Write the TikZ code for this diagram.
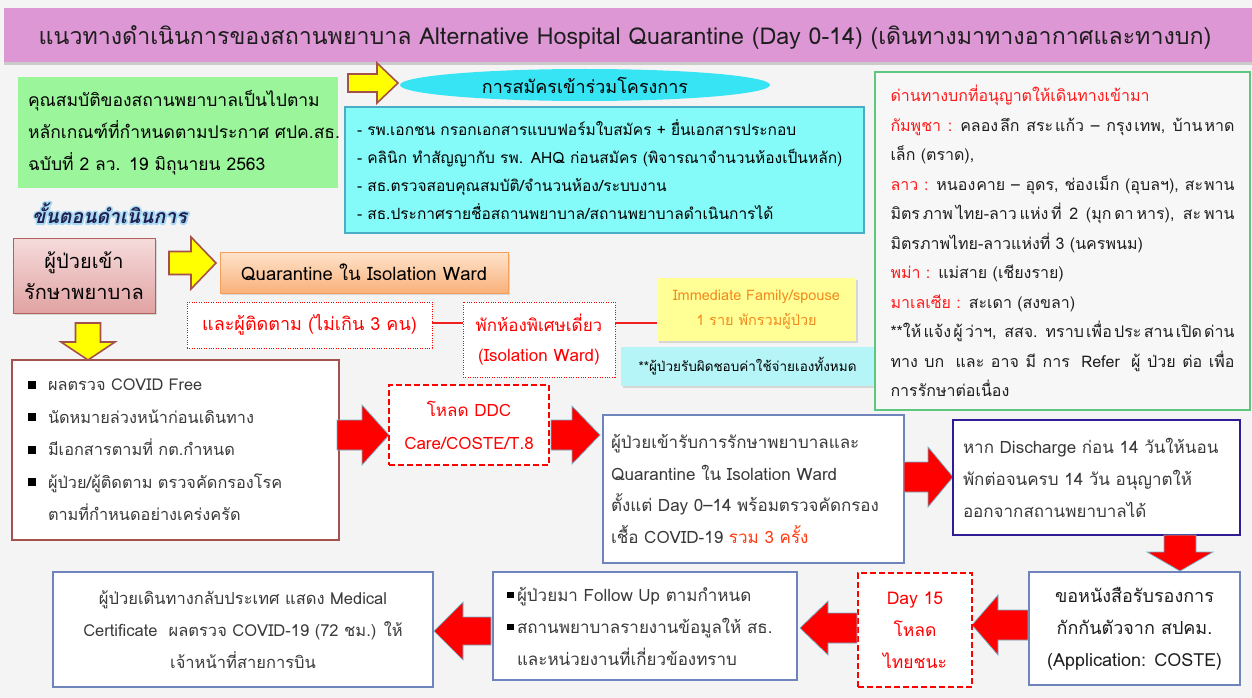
\documentclass[tikz,border=0pt]{standalone}
\usepackage{fontspec}
\setmainfont{Loma}[Script=Thai]
\usetikzlibrary{shapes.geometric,shadows}

\definecolor{bgc}{HTML}{F4F4F4}
\definecolor{titlec}{HTML}{DC97D4}
\definecolor{titletxt}{HTML}{1E1E1E}
\definecolor{qualc}{HTML}{9BF59A}
\definecolor{enrollc}{HTML}{37E4F4}
\definecolor{detailc}{HTML}{85FBF9}
\definecolor{detailline}{HTML}{4BACC6}
\definecolor{panelc}{HTML}{F7F7F7}
\definecolor{bordergreen}{HTML}{5DC77D}
\definecolor{pinktop}{HTML}{F6DCDC}
\definecolor{pinkbot}{HTML}{E1A2A2}
\definecolor{pinkline}{HTML}{B0615D}
\definecolor{orangetop}{HTML}{FEE4CC}
\definecolor{orangebot}{HTML}{F9B07A}
\definecolor{orangeline}{HTML}{F4A05B}
\definecolor{spousec}{HTML}{FFFF96}
\definecolor{spousetext}{HTML}{F28A1E}
\definecolor{selfpayc}{HTML}{B5F5F8}
\definecolor{arrowyellow}{HTML}{FFFF00}
\definecolor{arrowline}{HTML}{A5514B}
\definecolor{arrowedge}{HTML}{6FB7CF}
\definecolor{boxblue}{HTML}{6F83BD}
\definecolor{boxnavy}{HTML}{2E1D94}
\definecolor{checkline}{HTML}{A3524E}
\definecolor{graytxt}{HTML}{3A3A3A}
\definecolor{stepc}{HTML}{1F2050}
\definecolor{glowc}{HTML}{A9D8F2}
\definecolor{landred}{HTML}{FF1A1A}
\definecolor{countc}{HTML}{FF3A10}
\definecolor{tiec}{HTML}{F02020}

\newcommand\fsz[2]{\fontsize{#1}{#2}\selectfont}
\newcommand\keepline[1]{\mbox{#1}}
% a line spread out to the full width of the panel; \sg marks extra stretch points
\newcommand\sg{\hspace{0pt plus 1fil}}
\newcommand\spreadline[1]{\makebox[344pt][s]{\spaceskip=0.3em plus 1fil\relax #1}}
% text with a soft light-blue halo: a stroked copy under the filled text
\newcommand\glowtext[1]{\leavevmode
  \rlap{\textcolor{glowc}{\special{pdf:literal direct 1 Tr 3.6 w 1 j}#1\special{pdf:literal direct 0 Tr 0.4 w 0 j}}}%
  #1}
\newcommand\sqbullet{\makebox[20pt][l]{\textcolor{black}{\rule[2pt]{8pt}{8pt}}}}
\newcommand\smbullet{\makebox[10pt][l]{\textcolor{black}{\rule[3pt]{6.5pt}{6.5pt}}}}
% block arrows: [style]{tail}{head base}{tip}{centre}{shaft half}{head half}
\newcommand\blockh[7][]{\draw[#1] (#2,{#5-#6}) -- (#3,{#5-#6}) -- (#3,{#5-#7}) -- (#4,#5)
  -- (#3,{#5+#7}) -- (#3,{#5+#6}) -- (#2,{#5+#6}) -- cycle;}
\newcommand\blockv[7][]{\draw[#1] ({#5-#6},#2) -- ({#5-#6},#3) -- ({#5-#7},#3) -- (#5,#4)
  -- ({#5+#7},#3) -- ({#5+#6},#3) -- ({#5+#6},#2) -- cycle;}

\tikzset{
  boxed/.style={rectangle, inner ysep=0pt, outer sep=0pt},
  bluebox/.style={boxed, draw=boxblue, line width=2pt, fill=white, text=graytxt},
  reddash/.style={boxed, draw=red, line width=2.4pt, dash pattern=on 6pt off 3pt, fill=white, text=red, align=center},
  reddot/.style={boxed, draw=red, line width=0.8pt, dash pattern=on 1pt off 1.4pt, fill=white, text=red, align=center},
  yarrow/.style={fill=arrowyellow, draw=arrowline, line width=1.6pt, line join=miter},
  rarrow/.style={fill=red, draw=arrowedge, line width=0.7pt},
  tieline/.style={draw=tiec, line width=1.1pt},
  softshadow/.style={drop shadow={opacity=0.25, shadow xshift=1.5pt, shadow yshift=-2pt}},
}

\begin{document}
\begin{tikzpicture}[x=1pt,y=-1pt]
\useasboundingbox (0,0) rectangle (1252,698);
\fill[bgc] (0,0) rectangle (1252,698);

% heading band
\node[boxed, fill=titlec, minimum width=1248pt, minimum height=54pt,
      drop shadow={opacity=0.35, shadow xshift=0pt, shadow yshift=-3pt}] (titlebar) at (628,35) {};
\node[font=\fsz{23.2}{26}, text=titletxt] (title) at (625,37)
  {แนวทางดำเนินการของสถานพยาบาล Alternative Hospital Quarantine (Day 0-14) (เดินทางมาทางอากาศและทางบก)};

% qualification box
\node[boxed, fill=qualc, minimum width=320pt, minimum height=111pt, text width=300pt,
      inner xsep=10pt, align=left, font=\fsz{17.5}{32}] (qual) at (178,132.5)
  {\keepline{คุณสมบัติของสถานพยาบาลเป็นไปตาม}\\
   \keepline{หลักเกณฑ์ที่กำหนดตามประกาศ ศปค.สธ.}\\
   \keepline{ฉบับที่ 2 ลว. 19 มิถุนายน 2563}};

\node[anchor=west, inner sep=0pt, font=\fsz{19.5}{22}\bfseries\itshape, text=stepc] (steps) at (32,213)
  {\glowtext{ขั้นตอนดำเนินการ}};

% enrolment
\blockh[yarrow]{348}{377}{398}{83}{9}{20}
\node[ellipse, fill=enrollc, minimum width=370pt, minimum height=32pt, inner sep=0pt,
      font=\fsz{18}{20}] (enroll) at (585,85) {การสมัครเข้าร่วมโครงการ};
\node[boxed, fill=detailc, draw=detailline, line width=1.2pt, minimum width=519pt, minimum height=126pt,
      text width=495pt, inner xsep=12pt, align=left, font=\fsz{15.5}{28}] (detail) at (604.5,170)
  {\keepline{- รพ.เอกชน กรอกเอกสารแบบฟอร์มใบสมัคร + ยื่นเอกสารประกอบ}\\
   \keepline{- คลินิก ทำสัญญากับ รพ. AHQ ก่อนสมัคร (พิจารณาจำนวนห้องเป็นหลัก)}\\
   \keepline{- สธ.ตรวจสอบคุณสมบัติ/จำนวนห้อง/ระบบงาน}\\
   \keepline{- สธ.ประกาศรายชื่อสถานพยาบาล/สถานพยาบาลดำเนินการได้}};

% admission
\node[boxed, draw=pinkline, line width=1pt, top color=pinktop, bottom color=pinkbot, softshadow,
      minimum width=142pt, minimum height=75pt, align=center, font=\fsz{20}{31}] (patient) at (84,275.5)
  {ผู้ป่วยเข้า\\รักษาพยาบาล};
\blockh[yarrow]{169}{191}{216}{263}{11.5}{26}
\node[boxed, draw=orangeline, line width=1pt, top color=orangetop, bottom color=orangebot, softshadow,
      minimum width=288pt, minimum height=41pt, font=\fsz{18.5}{20}] (quar) at (364,272.5)
  {Quarantine ใน Isolation Ward};

\node[reddot, minimum width=245pt, minimum height=46pt, font=\fsz{18}{20}] (family) at (309.5,325)
  {และผู้ติดตาม (ไม่เกิน 3 คน)};
\node[reddot, minimum width=152pt, minimum height=75pt, font=\fsz{17}{30}] (isoroom) at (539,339.5)
  {พักห้องพิเศษเดี่ยว\\(Isolation Ward)};
\node[boxed, fill=spousec, softshadow, minimum width=199pt, minimum height=63pt, align=center,
      text=spousetext, font=\fsz{14.5}{25}] (spouse) at (756.5,309.5)
  {Immediate Family/spouse\\1 ราย พักรวมผู้ป่วย};
\node[boxed, fill=selfpayc, softshadow, minimum width=253pt, minimum height=39pt,
      font=\fsz{13.5}{16}] (selfpay) at (747.5,366.5)
  {**ผู้ป่วยรับผิดชอบค่าใช้จ่ายเองทั้งหมด};
\draw[tieline] ([yshift=2pt]family.east) -- ([yshift=2pt]family.east -| isoroom.west);
\draw[tieline] ([yshift=2pt]family.east -| isoroom.east) -- ([yshift=2pt]family.east -| spouse.west);

% land border checkpoints
\node[boxed, fill=panelc, draw=bordergreen, line width=1.2pt, minimum width=375pt, minimum height=338pt,
      text width=344pt, inner xsep=13pt, align=left, text=titletxt, font=\fsz{16}{29.5}] (borders) at (1062.5,241)
  {\keepline{\textcolor{landred}{ด่านทางบกที่อนุญาตให้เดินทางเข้ามา}}\\
   \spreadline{\textcolor{landred}{กัมพูชา :} คลอง\sg ลึก สระ\sg แก้ว – กรุง\sg เทพ, บ้าน\sg หาด}\\
   \keepline{เล็ก (ตราด),}\\
   \spreadline{\textcolor{landred}{ลาว :} หนอง\sg คาย – อุดร, ช่อง\sg เม็ก (อุบลฯ), สะ\sg พาน}\\
   \spreadline{มิตร\sg ภาพ\sg ไทย-ลาว\sg แห่ง\sg ที่ 2 (มุก\sg ดา\sg หาร), สะ\sg พาน}\\
   \keepline{มิตรภาพไทย-ลาวแห่งที่ 3 (นครพนม)}\\
   \keepline{\textcolor{landred}{พม่า :} แม่สาย (เชียงราย)}\\
   \keepline{\textcolor{landred}{มาเลเซีย :} สะเดา (สงขลา)}\\
   \spreadline{**ให้\sg แจ้ง\sg ผู้\sg ว่าฯ, สสจ. ทราบ\sg เพื่อ\sg ประ\sg สาน\sg เปิด\sg ด่าน}\\
   \spreadline{ทาง\sg บก และ\sg อาจ\sg มี\sg การ Refer ผู้\sg ป่วย\sg ต่อ\sg เพื่อ}\\
   \keepline{การรักษาต่อเนื่อง}};

% pre-arrival checks
\blockv[yarrow]{323}{342}{360}{88}{12.5}{27}
\node[boxed, draw=checkline, line width=2pt, fill=white, minimum width=327pt, minimum height=180pt,
      text width=295pt, inner xsep=16pt, align=left, text=graytxt, font=\fsz{16.3}{32.5}] (checklist) at (175.5,450)
  {\keepline{\sqbullet ผลตรวจ COVID Free}\\
   \keepline{\sqbullet นัดหมายล่วงหน้าก่อนเดินทาง}\\
   \keepline{\sqbullet มีเอกสารตามที่ กต.กำหนด}\\
   \keepline{\sqbullet ผู้ป่วย/ผู้ติดตาม ตรวจคัดกรองโรค}\\
   \keepline{\hspace*{20pt}ตามที่กำหนดอย่างเคร่งครัด}};

\blockh[rarrow]{337}{362}{389}{435}{15}{30}
\node[reddash, minimum width=160pt, minimum height=80pt, font=\fsz{17}{33}] (ddc) at (469,425)
  {โหลด DDC\\Care/COSTE/T.8};
\blockh[rarrow]{551}{572}{600}{435}{15}{29}

\node[bluebox, minimum width=301pt, minimum height=148pt, text width=285pt, inner xsep=8pt,
      align=left, font=\fsz{17}{31.7}] (treat) at (753.5,489)
  {\keepline{ผู้ป่วยเข้ารับการรักษาพยาบาลและ}\\
   \keepline{Quarantine ใน Isolation Ward}\\
   \keepline{ตั้งแต่ Day 0–14 พร้อมตรวจคัดกรอง}\\
   \keepline{เชื้อ COVID-19 \textcolor{countc}{รวม 3 ครั้ง}}};

\blockh[rarrow]{904}{928}{953}{477}{15}{30}
\node[boxed, draw=boxnavy, line width=2.2pt, fill=white, text=graytxt, minimum width=287pt, minimum height=115pt,
      text width=267pt, inner xsep=10pt, align=left, font=\fsz{17}{32}] (discharge) at (1096.5,477.5)
  {\keepline{หาก Discharge ก่อน 14 วันให้นอน}\\
   \keepline{พักต่อจนครบ 14 วัน อนุญาตให้}\\
   \keepline{ออกจากสถานพยาบาลได้}};

\blockv[rarrow]{535}{552}{571}{1180}{16}{33}

% after the quarantine period
\node[bluebox, minimum width=211pt, minimum height=113pt, align=center, text=titletxt,
      font=\fsz{18}{32}] (cert) at (1134.5,628.5)
  {ขอหนังสือรับรองการ\\กักกันตัวจาก สปคม.\\(Application: COSTE)};
\blockh[rarrow]{1028}{998}{972}{625}{15}{30}
\node[reddash, minimum width=114pt, minimum height=114pt, font=\fsz{17.5}{32}] (day15) at (915,630)
  {Day 15\\โหลด\\ไทยชนะ};
\blockh[rarrow]{857}{828}{800}{628}{15}{27}
\node[bluebox, minimum width=304pt, minimum height=108pt, text width=276pt, inner xsep=14pt,
      align=left, font=\fsz{17}{32}] (follow) at (645,626)
  {\keepline{\smbullet ผู้ป่วยมา Follow Up ตามกำหนด}\\
   \keepline{\smbullet สถานพยาบาลรายงานข้อมูลให้ สธ.}\\
   \keepline{\hspace*{10pt}และหน่วยงานที่เกี่ยวข้องทราบ}};
\blockh[rarrow]{491}{463}{434}{631}{14}{29}
\node[bluebox, minimum width=380pt, minimum height=115pt, align=center,
      font=\fsz{16.5}{32}] (return) at (243,629.5)
  {ผู้ป่วยเดินทางกลับประเทศ แสดง Medical\\Certificate\ \ ผลตรวจ COVID-19 (72 ชม.) ให้\\เจ้าหน้าที่สายการบิน};
\end{tikzpicture}
\end{document}
